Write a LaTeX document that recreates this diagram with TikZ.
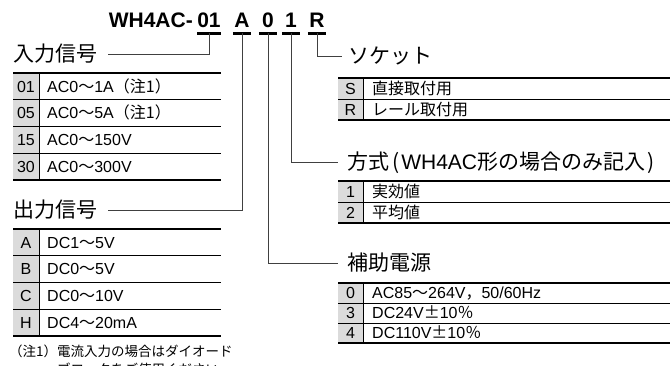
\documentclass[tikz,border=0pt]{standalone}
\usepackage{fontspec}
\setmainfont{Liberation Sans}
\newfontfamily\jp{Noto Sans CJK JP}
\definecolor{keygray}{gray}{0.86}
\begin{document}
\begin{tikzpicture}[x=1pt,y=-1pt,
  code/.style={font=\bfseries\fontsize{21}{22}\selectfont,anchor=south,inner xsep=0pt,inner ysep=5.5pt,minimum width=18pt,text height=15pt,text depth=0pt},
  bar/.style={line width=3pt},
  leader/.style={line width=0.8pt,black!75},
  head/.style={font=\jp\fontsize{21}{22}\selectfont,anchor=west,inner sep=0pt,text height=16pt,text depth=2pt},
  key/.style={font=\fontsize{16}{18}\selectfont,inner sep=0pt,text height=11.5pt,text depth=0pt},
  item/.style={key,anchor=west},
  rule/.style={line width=0.8pt},
  edge/.style={line width=2.5pt},
  note/.style={font=\jp\fontsize{13.5}{16}\selectfont,inner sep=0pt,anchor=base west}]
\useasboundingbox (0,0) rectangle (670,365);
\fill[white] (0,0) rectangle (670,365);

\node[code,anchor=south east,minimum width=0pt] (model) at (193,33) {WH4AC-};
\node[code] (t01) at (209,33) {01};
\node[code] (tA) at (242,33) {A};
\node[code] (t0) at (268,33) {0};
\node[code] (t1) at (291,33) {1};
\node[code] (tR) at (317,33) {R};
\foreach \n in {t01,tA,t0,t1,tR}
  \draw[bar] (\n.south west) -- (\n.south east);

\node[head] (hIn) at (13,54) {入力信号};
\node[head] (hOut) at (13,210) {出力信号};
\node[head] (hSock) at (348,56) {ソケット};
\node[head] (hMode) at (347,162) {方式{\kern3pt(\kern2pt}{\fontspec{Liberation Sans}\fontsize{21}{22}\selectfont WH4AC}形の場合のみ記入{\kern2pt)}};
\node[head] (hPow) at (347,263) {補助電源};

\draw[leader] (t01.south) |- ([xshift=11pt]hIn.east);
\draw[leader] (tA.south) |- ([xshift=11pt]hOut.east);
\draw[leader] (tR.south) |- ([xshift=-6pt]hSock.west);
\draw[leader] (t1.south) |- ([xshift=-9pt]hMode.west);
\draw[leader] (t0.south) |- ([xshift=-9pt]hPow.west);

\fill[keygray] (13,73) rectangle (39,180);
\foreach \c/\t [count=\i] in {01/{AC0{\jp ～}1A{\jp （注1）}},05/{AC0{\jp ～}5A{\jp （注1）}},15/{AC0{\jp ～}150V},30/{AC0{\jp ～}300V}}{
  \node[key] (in\c) at (26,73+26.75*\i-13.4) {\c};
  \node[item] (in\c txt) at (47,73+26.75*\i-13.4) {\t};
}
\foreach \i in {1,2,3}
  \draw[rule] (13,73+26.75*\i) -- (221,73+26.75*\i);
\draw[rule] (39,73) -- (39,180);
\draw[edge] (13,73) -- (221,73);
\draw[edge] (13,180) -- (221,180);

\fill[keygray] (13,229) rectangle (39,336);
\foreach \c/\t [count=\i] in {A/{DC1{\jp ～}5V},B/{DC0{\jp ～}5V},C/{DC0{\jp ～}10V},H/{DC4{\jp ～}20mA}}{
  \node[key] (out\c) at (26,229+26.75*\i-13.4) {\c};
  \node[item] (out\c txt) at (47,229+26.75*\i-13.4) {\t};
}
\foreach \i in {1,2,3}
  \draw[rule] (13,229+26.75*\i) -- (221,229+26.75*\i);
\draw[rule] (39,229) -- (39,336);
\draw[edge] (13,229) -- (221,229);
\draw[edge] (13,336) -- (221,336);

\node[note] (note1) at (9,356) {（注1）電流入力の場合はダイオード};
\node[note] (note2) at (57,374) {ブロックをご使用ください};

\fill[keygray] (338,78) rectangle (363,120);
\foreach \c/\t [count=\i] in {S/{\jp 直接取付用},R/{\jp レール取付用}}{
  \node[key] (sock\c) at (350.5,78+21*\i-10.5) {\c};
  \node[item] (sock\c txt) at (372,78+21*\i-10.5) {\t};
}
\draw[rule] (338,99) -- (670,99);
\draw[rule] (363,78) -- (363,120);
\draw[edge] (338,78) -- (670,78);
\draw[edge] (338,120) -- (670,120);

\fill[keygray] (338,181) rectangle (363,223);
\foreach \c/\t [count=\i] in {1/{\jp 実効値},2/{\jp 平均値}}{
  \node[key] (mode\c) at (350.5,181+21*\i-10.5) {\c};
  \node[item] (mode\c txt) at (372,181+21*\i-10.5) {\t};
}
\draw[rule] (338,202) -- (670,202);
\draw[rule] (363,181) -- (363,223);
\draw[edge] (338,181) -- (670,181);
\draw[edge] (338,223) -- (670,223);

\fill[keygray] (338,283) rectangle (363,343);
\foreach \c/\t [count=\i] in {0/{AC85{\jp ～}264V{\jp ，}50/60Hz},3/{DC24V{\jp ±}10{\jp ％}},4/{DC110V{\jp ±}10{\jp ％}}}{
  \node[key] (pow\c) at (350.5,283+20*\i-10) {\c};
  \node[item] (pow\c txt) at (372,283+20*\i-10) {\t};
}
\foreach \i in {1,2}
  \draw[rule] (338,283+20*\i) -- (670,283+20*\i);
\draw[rule] (363,283) -- (363,343);
\draw[edge] (338,283) -- (670,283);
\draw[edge] (338,343) -- (670,343);
\end{tikzpicture}
\end{document}
